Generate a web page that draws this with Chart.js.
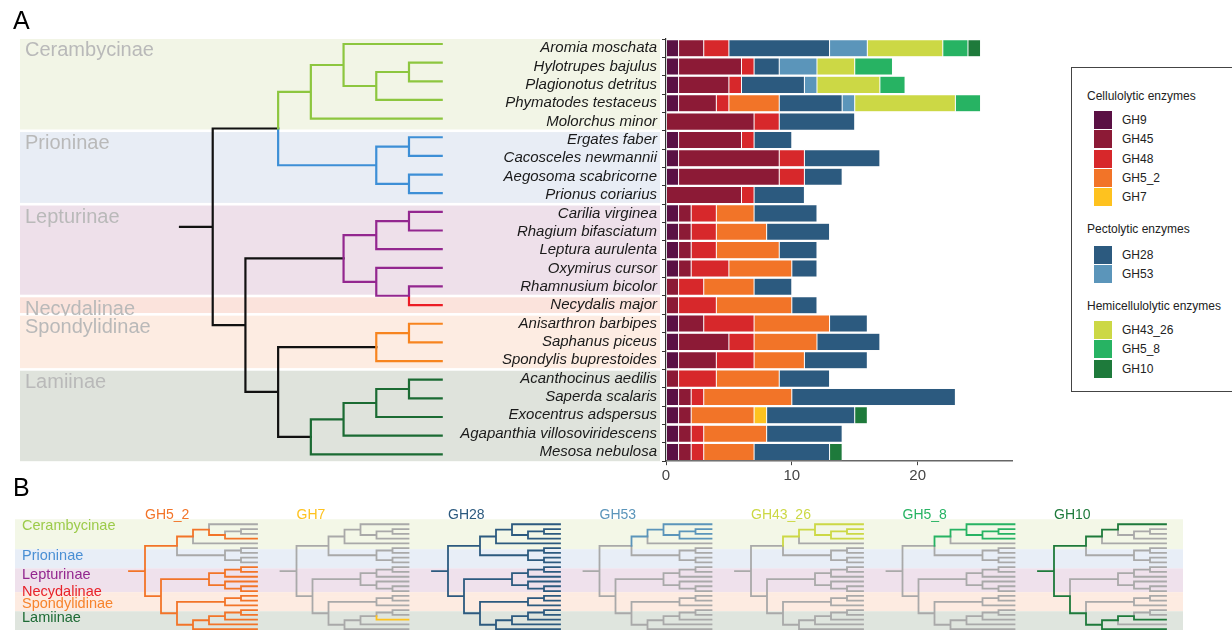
<!DOCTYPE html>
<html><head><meta charset="utf-8">
<script src="https://cdn.jsdelivr.net/npm/chart.js@4.4.0/dist/chart.umd.min.js"></script>
<style>
html,body{margin:0;padding:0;background:#fff;width:1232px;height:630px;overflow:hidden;font-family:"Liberation Sans",Arial,sans-serif;}
#wrap{position:relative;width:1232px;height:630px;overflow:hidden;}
canvas{position:absolute;}
.panel{position:absolute;font-size:25px;line-height:1;color:#000;}
#legend{position:absolute;left:1071px;top:67px;width:200px;height:325px;border:1px solid #444;box-sizing:border-box;}
.lt{position:absolute;height:18px;line-height:18px;font-size:12px;color:#222;white-space:nowrap;}
.sw{position:absolute;width:18px;height:18px;}
</style></head>
<body>
<div id="wrap">
<canvas id="bar" width="1050" height="490" style="left:0;top:0;width:1050px;height:490px"></canvas>
<canvas id="tree" width="460" height="490" style="left:0;top:0;width:460px;height:490px"></canvas>
<canvas id="mini" width="1232" height="130" style="left:0;top:500px;width:1232px;height:130px"></canvas>
<div id="legend"></div>
<div class="panel" style="left:13px;top:8px">A</div>
<div class="panel" style="left:13px;top:475px">B</div>
</div>
<script>
// ---------------- DATA ----------------
const species = ['Aromia moschata','Hylotrupes bajulus','Plagionotus detritus','Phymatodes testaceus','Molorchus minor',
 'Ergates faber','Cacosceles newmannii','Aegosoma scabricorne','Prionus coriarius',
 'Carilia virginea','Rhagium bifasciatum','Leptura aurulenta','Oxymirus cursor','Rhamnusium bicolor',
 'Necydalis major',
 'Anisarthron barbipes','Saphanus piceus','Spondylis buprestoides',
 'Acanthocinus aedilis','Saperda scalaris','Exocentrus adspersus','Agapanthia villosoviridescens','Mesosa nebulosa'];
const subfamily = ['Cerambycinae','Cerambycinae','Cerambycinae','Cerambycinae','Cerambycinae',
 'Prioninae','Prioninae','Prioninae','Prioninae',
 'Lepturinae','Lepturinae','Lepturinae','Lepturinae','Lepturinae',
 'Necydalinae',
 'Spondylidinae','Spondylidinae','Spondylidinae',
 'Lamiinae','Lamiinae','Lamiinae','Lamiinae','Lamiinae'];
const xTicks = [0,10,20];
const GH9     = [1,1,1,1,0, 1,1,1,0, 1,1,1,1,0, 0, 1,1,1, 0,1,1,1,1];
const GH45    = [2,5,4,3,7, 5,8,8,6, 1,1,1,1,1, 1, 2,4,3, 1,1,1,1,1];
const GH48    = [2,1,1,1,2, 1,2,2,1, 2,2,2,3,2, 3, 4,2,3, 3,1,0,1,1];
const GH5_2   = [0,0,0,4,0, 0,0,0,0, 3,4,5,5,4, 6, 6,5,4, 5,7,5,5,4];
const GH7     = [0,0,0,0,0, 0,0,0,0, 0,0,0,0,0, 0, 0,0,0, 0,0,1,0,0];
const GH28    = [8,2,5,5,6, 3,6,3,4, 5,5,3,2,3, 2, 3,5,5, 4,13,7,6,6];
const GH53    = [3,3,1,1,0, 0,0,0,0, 0,0,0,0,0, 0, 0,0,0, 0,0,0,0,0];
const GH43_26 = [6,3,5,8,0, 0,0,0,0, 0,0,0,0,0, 0, 0,0,0, 0,0,0,0,0];
const GH5_8   = [2,3,2,2,0, 0,0,0,0, 0,0,0,0,0, 0, 0,0,0, 0,0,0,0,0];
const GH10    = [1,0,0,0,0, 0,0,0,0, 0,0,0,0,0, 0, 0,0,0, 0,0,1,0,1];
const enzymes = ['GH9','GH45','GH48','GH5_2','GH7','GH28','GH53','GH43_26','GH5_8','GH10'];
const counts = {GH9,GH45,GH48,GH5_2,GH7,GH28,GH53,GH43_26,GH5_8,GH10};
const legendGroups = [['Cellulolytic enzymes',['GH9','GH45','GH48','GH5_2','GH7']],
                      ['Pectolytic enzymes',['GH28','GH53']],
                      ['Hemicellulolytic enzymes',['GH43_26','GH5_8','GH10']]];
const treeNewick = '((((Aromia moschata,((Hylotrupes bajulus,Plagionotus detritus),Phymatodes testaceus)),Molorchus minor),((Ergates faber,Cacosceles newmannii),(Aegosoma scabricorne,Prionus coriarius))),((((Carilia virginea,Rhagium bifasciatum),Leptura aurulenta),(Oxymirus cursor,(Rhamnusium bicolor,Necydalis major))),(((Anisarthron barbipes,Saphanus piceus),Spondylis buprestoides),((((Acanthocinus aedilis,Saperda scalaris),Exocentrus adspersus),Agapanthia villosoviridescens),Mesosa nebulosa))))';
const panelBEnzymes = ['GH5_2','GH7','GH28','GH53','GH43_26','GH5_8','GH10'];
// clade (MRCA of these tips) where each enzyme is inferred present in panel B
const gainTips = {
  GH5_2:['Aromia moschata','Mesosa nebulosa'], GH7:['Exocentrus adspersus'], GH28:['Aromia moschata','Mesosa nebulosa'],
  GH53:['Aromia moschata','Molorchus minor'], GH43_26:['Aromia moschata','Molorchus minor'],
  GH5_8:['Aromia moschata','Molorchus minor'], GH10:['Aromia moschata','Mesosa nebulosa']};

// ---------------- STYLE ----------------
const FONT = '"Liberation Sans", Arial, sans-serif';
const enzColor = {GH9:'#5a1044',GH45:'#8c1a36',GH48:'#d7282b',GH5_2:'#f27428',GH7:'#fec21f',
  GH28:'#2c5a7f',GH53:'#5b95ba',GH43_26:'#ccd845',GH5_8:'#27b363',GH10:'#1e7a3b'};
const groupColor = {Cerambycinae:'#8dc63f',Prioninae:'#3d8fd6',Lepturinae:'#93278f',Necydalinae:'#ec1c24',Spondylidinae:'#f7841f',Lamiinae:'#1b6b33'};
const labelColorB = {Cerambycinae:'#9ccb4a',Prioninae:'#4a8fd4',Lepturinae:'#93278f',Necydalinae:'#e8232a',Spondylidinae:'#f7842d',Lamiinae:'#1e6b35'};
const bandA = {Cerambycinae:'#f2f5e6',Prioninae:'#e8edf5',Lepturinae:'#eee0ea',Necydalinae:'#fbe3dc',Spondylidinae:'#fdece2',Lamiinae:'#dfe3dc'};
const bandB = {Cerambycinae:'#f3f7e7',Prioninae:'#e8eef7',Lepturinae:'#efe1ec',Necydalinae:'#fdebe1',Spondylidinae:'#fdebe1',Lamiinae:'#dfe5de'};
const stemColored = ['Cerambycinae','Prioninae'];
const grayB = '#a9a9a9';

// ---------------- TREE ----------------
function parseNewick(s){
  let i=0;
  function node(){
    if(s[i]==='('){ i++; const ch=[];
      while(true){ ch.push(node()); if(s[i]===','){i++;continue;} if(s[i]===')'){i++;break;} }
      return {children:ch};
    }
    let n=''; while(i<s.length && !',()'.includes(s[i])) n+=s[i++];
    return {name:n.trim()};
  }
  return node();
}
const root = parseNewick(treeNewick);
const nodes = [];
function layout(n,parent){
  n.parent=parent; nodes.push(n);
  if(!n.children){ n.tips=[n.name]; n.h=0; n.y=species.indexOf(n.name); }
  else { n.children.forEach(c=>layout(c,n)); n.tips=[].concat(...n.children.map(c=>c.tips));
    n.h=1+Math.max(...n.children.map(c=>c.h)); n.y=n.children.reduce((a,c)=>a+c.y,0)/n.children.length; }
}
layout(root,null);
nodes.forEach(n=>{ n.x = root.h - n.h; });
function branchPts(n){
  if(!n.parent) return [{x:n.x-1,y:n.y},{x:n.x,y:n.y}];
  return [{x:n.parent.x,y:n.parent.y},{x:n.parent.x,y:n.y},{x:n.x,y:n.y}];
}
function makeDatasets(colorOf, tx, width, bottomColors){
  const by=new Map();
  nodes.forEach(n=>{ const c=colorOf(n); if(!by.has(c)) by.set(c,[]); const arr=by.get(c);
    if(arr.length) arr.push({x:null,y:null});
    branchPts(n).forEach(p=>arr.push({x:tx(p.x),y:p.y})); });
  const ds=[...by].map(([c,data])=>({data,borderColor:c,borderWidth:width,showLine:true,pointRadius:0,tension:0,spanGaps:false,clip:false,borderCapStyle:'square',borderJoinStyle:'miter'}));
  ds.sort((a,b)=>(bottomColors.includes(a.borderColor)?1:0)-(bottomColors.includes(b.borderColor)?1:0));
  return ds;
}
const tipGroup = {}; species.forEach((s,i)=>tipGroup[s]=subfamily[i]);
function cladeGroup(n){
  if(!n.children) return tipGroup[n.name];
  const g=new Set(n.tips.map(t=>tipGroup[t]==='Necydalinae'?'Lepturinae':tipGroup[t]));
  return g.size===1?[...g][0]:null;
}
function colorA(n){
  const g=cladeGroup(n); if(!g) return '#111111';
  const pg = n.parent?cladeGroup(n.parent):null;
  if(n.children && !pg && !stemColored.includes(g)) return '#111111';
  return groupColor[g];
}
function runs(arr){ const r=[]; arr.forEach((g,i)=>{ if(r.length && r[r.length-1].g===g) r[r.length-1].last=i; else r.push({g,first:i,last:i}); }); return r; }
const groupRuns = runs(subfamily);

// ---------------- BAR CHART (panel A) ----------------
const bandPlugin = {id:'bands', beforeDraw(chart){
  const ctx=chart.ctx, y=chart.scales.y;
  const half=(y.getPixelForValue(1)-y.getPixelForValue(0))/2;
  ctx.save();
  groupRuns.forEach((r,k)=>{
    let top=y.getPixelForValue(r.first)-half, bot=y.getPixelForValue(r.last)+half;
    if(k>0) top+=1.3; if(k<groupRuns.length-1) bot-=1.3;
    ctx.fillStyle=bandA[r.g]; ctx.fillRect(20,top,640,bot-top);
    ctx.fillStyle='#b9b9b9'; ctx.font='20px '+FONT; ctx.textBaseline='alphabetic'; ctx.textAlign='left';
    ctx.fillText(r.g,25,top+17.3);
  });
  ctx.restore();
}};
new Chart(document.getElementById('bar'),{
  type:'bar',
  data:{labels:species, datasets:enzymes.map(e=>({label:e,data:counts[e].map(v=>v||null),backgroundColor:enzColor[e],
    borderColor:'rgba(235,235,235,0.35)',borderWidth:0.5,borderSkipped:false,barPercentage:0.93,categoryPercentage:1}))},
  options:{indexAxis:'y',responsive:false,animation:false,events:[],
    layout:{padding:{left:0,top:39,right:38,bottom:0}},
    plugins:{legend:{display:false},tooltip:{enabled:false}},
    scales:{
      x:{stacked:true,min:0,max:27.5,
        afterBuildTicks:s=>{s.ticks=xTicks.map(v=>({value:v}));},
        afterFit:s=>{s.height=28.8;},
        grid:{drawOnChartArea:false,drawTicks:true,tickLength:4,color:'#444'},
        border:{display:true,color:'#666',width:1.6},
        ticks:{color:'#444',font:{size:15,family:FONT},padding:2,maxRotation:0}},
      y:{stacked:true,afterFit:s=>{s.width=666;},
        grid:{drawOnChartArea:false,drawTicks:true,tickLength:4,color:'#333'},
        border:{display:true,color:'#333',width:1.2},
        ticks:{color:'#1a1a1a',font:{size:15,style:'italic',family:FONT},padding:5,autoSkip:false}}}
  },
  plugins:[bandPlugin]
});

// ---------------- TREE (panel A) ----------------
new Chart(document.getElementById('tree'),{
  type:'scatter',
  data:{datasets:makeDatasets(colorA, x=>x, 2.2, ['#111111'])},
  options:{responsive:false,animation:false,events:[],
    layout:{padding:{left:180,right:460-441.7,top:34.7,bottom:490-463.6}},
    plugins:{legend:{display:false},tooltip:{enabled:false}},
    scales:{x:{type:'linear',min:-1,max:7,display:false},y:{type:'linear',min:-0.5,max:22.5,reverse:true,display:false}}}
});

// ---------------- PANEL B ----------------
function mrca(tips){
  let best=root;
  nodes.forEach(n=>{ if(tips.every(t=>n.tips.includes(t)) && n.tips.length<best.tips.length) best=n; });
  return best;
}
function inSubtree(n,top){ let p=n; while(p){ if(p===top) return true; p=p.parent; } return false; }
let bDatasets=[];
panelBEnzymes.forEach((e,k)=>{
  const x0=145+151.5*k, gain=mrca(gainTips[e]);
  const present=n=>inSubtree(n,gain) && n.tips.some(t=>counts[e][species.indexOf(t)]>0);
  bDatasets=bDatasets.concat(makeDatasets(n=>present(n)?enzColor[e]:grayB, x=>x0+16*x, 1.8, [grayB]));
});
bDatasets.sort((a,b)=>(a.borderColor===grayB?1:0)-(b.borderColor===grayB?1:0));
const bPlugin={id:'bpanel', beforeDraw(chart){
  const ctx=chart.ctx, y=chart.scales.y;
  const yp=i=>y.getPixelForValue(i);
  ctx.save();
  const rr=groupRuns;
  rr.forEach((r,k)=>{
    const top = k===0 ? yp(0)-5 : (yp(rr[k-1].last)+yp(r.first))/2+3.5;
    const bot = k===rr.length-1 ? chart.height : (yp(r.last)+yp(rr[k+1].first))/2+3.5;
    ctx.fillStyle=bandB[r.g]; ctx.fillRect(15,top,1168,bot-top);
    r.topB=top;
  });
  ctx.font='14.5px '+FONT; ctx.textBaseline='middle'; ctx.textAlign='left';
  rr.forEach(r=>{ ctx.fillStyle=labelColorB[r.g];
    const cy = r.first===r.last ? yp(r.first)+1 : r.topB+7;
    ctx.fillText(r.g,22,cy); });
  ctx.font='14px '+FONT;
  panelBEnzymes.forEach((e,k)=>{ ctx.fillStyle=enzColor[e]; ctx.fillText(e,145+151.5*k,15); });
  ctx.restore();
}};
new Chart(document.getElementById('mini'),{
  type:'scatter',
  data:{datasets:bDatasets},
  options:{responsive:false,animation:false,events:[],
    layout:{padding:{left:0,right:0,top:19.5,bottom:0.8}},
    plugins:{legend:{display:false},tooltip:{enabled:false}},
    scales:{x:{type:'linear',min:0,max:1232,display:false},y:{type:'linear',min:-1,max:22,reverse:true,display:false}}},
  plugins:[bPlugin]
});

// ---------------- LEGEND (HTML) ----------------
const lg=document.getElementById('legend');
const titleTops=[86,219,296], firstSw=[110,245,320], step=19.3;
legendGroups.forEach(([title,list],gi)=>{
  const t=document.createElement('div'); t.className='lt'; t.textContent=title;
  t.style.left=(1086-1071)+'px'; t.style.top=(titleTops[gi]-67)+'px'; lg.appendChild(t);
  list.forEach((e,j)=>{
    const top=firstSw[gi]+j*step-67;
    const s=document.createElement('div'); s.className='sw'; s.style.background=enzColor[e];
    s.style.left=(1093-1071)+'px'; s.style.top=top+'px'; lg.appendChild(s);
    const l=document.createElement('div'); l.className='lt'; l.textContent=e;
    l.style.left=(1121-1071)+'px'; l.style.top=top+'px'; lg.appendChild(l);
  });
});
</script>
</body></html>
